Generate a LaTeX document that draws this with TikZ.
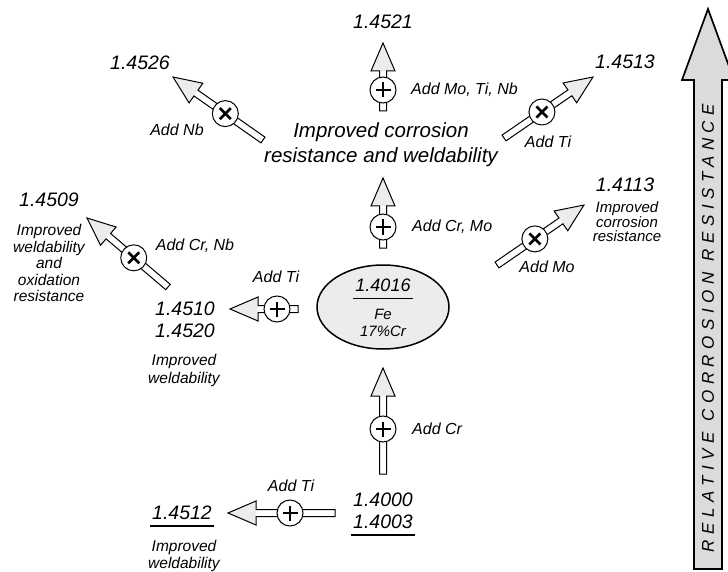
\documentclass[tikz,border=0pt]{standalone}
\usepackage{fontspec}
\setmainfont{Liberation Sans}
\usetikzlibrary{shapes.geometric, positioning}

\tikzset{
  grade/.style={font=\itshape\fontsize{19.5}{22}\selectfont, inner sep=2pt, align=center},
  addlabel/.style={font=\itshape\fontsize{16}{18}\selectfont, inner sep=1pt},
  effect/.style={font=\itshape\fontsize{15.5}{16.5}\selectfont, inner sep=1pt, align=center},
  arrowline/.style={draw, line width=1pt, line join=miter},
  underl/.style={line width=1.8pt},
  addcircle/.style={circle, draw, line width=1pt, fill=white, minimum size=26pt, inner sep=0pt},
  plussym/.style={addcircle, path picture={
      \draw[line width=2.6pt] ([xshift=-7.5pt]path picture bounding box.center) -- ([xshift=7.5pt]path picture bounding box.center);
      \draw[line width=2.6pt] ([yshift=-7.5pt]path picture bounding box.center) -- ([yshift=7.5pt]path picture bounding box.center);}},
  crosssym/.style={addcircle, path picture={
      \draw[line width=2.6pt] ([shift={(-5.5pt,-5.5pt)}]path picture bounding box.center) -- ([shift={(5.5pt,5.5pt)}]path picture bounding box.center);
      \draw[line width=2.6pt] ([shift={(-5.5pt,5.5pt)}]path picture bounding box.center) -- ([shift={(5.5pt,-5.5pt)}]path picture bounding box.center);}},
}

% hollow arrow from #1 to #2 with the addition circle #4 at distance #3 from the tail
\newcommand{\fatarrow}[5]{%
  \path (#1); \pgfgetlastxy{\tailx}{\taily}%
  \path (#2); \pgfgetlastxy{\tipx}{\tipy}%
  \pgfmathsetmacro{\arrang}{atan2((\tipy)-(\taily),(\tipx)-(\tailx))}%
  \pgfmathsetmacro{\arrlen}{veclen((\tipx)-(\tailx),(\tipy)-(\taily))}%
  \begin{scope}[shift={(#1)}, rotate=\arrang, x=1pt, y=1pt]
    \fill[white] (0,-3.5) -- (\arrlen-28,-3.5) -- (\arrlen-28,-12) -- (\arrlen,0) -- (\arrlen-28,12) -- (\arrlen-28,3.5) -- (0,3.5) -- cycle;
    \fill[gray!15] (\arrlen-28,-12) -- (\arrlen,0) -- (\arrlen-28,12) -- cycle;
    \draw[arrowline] (0,-3.5) -- (\arrlen-28,-3.5) -- (\arrlen-28,-12) -- (\arrlen,0) -- (\arrlen-28,12) -- (\arrlen-28,3.5) -- (0,3.5) -- cycle;
    \coordinate (#4) at (#3,0);
  \end{scope}
  \node[#5] (#4-sym) at (#4) {};}

\begin{document}
\begin{tikzpicture}[x=1pt, y=-1pt]
    \useasboundingbox (0,0) rectangle (728,572);

    % Relative corrosion resistance scale
    \draw[line width=1.7pt, fill=gray!28, line join=miter]
        (694,569) -- (694,80) -- (682,80) -- (708,9) -- (734,80) -- (722,80) -- (722,569) -- cycle;
    \node[font=\itshape\fontsize{17}{20}\selectfont\addfontfeatures{LetterSpace=33}, rotate=90] (scale) at (708,328) {RELATIVE CORROSION RESISTANCE};

    % Base alloy
    \node[draw, ellipse, line width=1.5pt, fill=gray!15, minimum width=132pt, minimum height=84pt] (base) at (383,307) {};
    \node[grade, font=\itshape\fontsize{18}{20}\selectfont] (g4016) at (383,285) {1.4016};
    \draw[underl] ([yshift=-5pt]g4016.south west) -- ([yshift=-5pt]g4016.south east);
    \node[effect, font=\itshape\fontsize{15}{16.5}\selectfont] (fecr) at (383,323) {Fe\\17\%Cr};

    % Grades
    \node[grade] (g4521) at (383,22) {1.4521};
    \node[grade] (g4526) at (140,63) {1.4526};
    \node[grade] (g4513) at (625,62) {1.4513};
    \node[grade] (g4509) at (49,200) {1.4509};
    \node[grade] (g4113) at (625,185) {1.4113};
    \node[grade] (g4510) at (185,320) {1.4510\\1.4520};
    \node[grade] (g4512) at (182,513) {1.4512};
    \draw[underl] ([yshift=-4pt]g4512.south west) -- ([yshift=-4pt]g4512.south east);
    \node[grade] (g4000) at (383,511) {1.4000\\1.4003};
    \draw[underl] ([yshift=-4pt]g4000.south west) -- ([yshift=-4pt]g4000.south east);

    % Properties
    \node[grade, font=\itshape\fontsize{20.5}{25}\selectfont] (corrweld) at (381,145) {Improved corrosion\\resistance and weldability};
    \node[effect] (e4509) at (49,263) {Improved\\weldability\\and\\oxidation\\resistance};
    \node[effect, font=\itshape\fontsize{15}{14.5}\selectfont] (e4113) at (627,222) {Improved\\corrosion\\resistance};
    \node[effect, font=\itshape\fontsize{15.5}{18}\selectfont] (e4510) at (184,370) {Improved\\weldability};
    \node[effect] (e4512) at (184,556) {Improved\\weldability};

    % Additions
    \coordinate (motinb-tail) at (383,111);  \coordinate (motinb-tip) at (383,43);
    \coordinate (crmo-tail) at (383,248);    \coordinate (crmo-tip) at (383,178);
    \coordinate (cr-tail) at (383,474);      \coordinate (cr-tip) at (383,368);
    \coordinate (nb-tail) at (263,140);      \coordinate (nb-tip) at (173,77);
    \coordinate (tiup-tail) at (504,138);    \coordinate (tiup-tip) at (593,77);
    \coordinate (mo-tail) at (497,265);      \coordinate (mo-tip) at (584,205);
    \coordinate (crnb-tail) at (168,287);    \coordinate (crnb-tip) at (87,218);
    \coordinate (tileft-tail) at (298,309);  \coordinate (tileft-tip) at (230,309);
    \coordinate (tilow-tail) at (335,513);   \coordinate (tilow-tip) at (228,513);

    \fatarrow{motinb-tail}{motinb-tip}{21}{motinb}{plussym}
    \fatarrow{crmo-tail}{crmo-tip}{21}{crmo}{plussym}
    \fatarrow{cr-tail}{cr-tip}{45}{cr}{plussym}
    \fatarrow{nb-tail}{nb-tip}{46}{nb}{crosssym}
    \fatarrow{tiup-tail}{tiup-tip}{46}{tiup}{crosssym}
    \fatarrow{mo-tail}{mo-tip}{46}{mo}{crosssym}
    \fatarrow{crnb-tail}{crnb-tip}{45}{crnb}{crosssym}
    \fatarrow{tileft-tail}{tileft-tip}{21}{tileft}{plussym}
    \fatarrow{tilow-tail}{tilow-tip}{45}{tilow}{plussym}

    % Addition labels
    \node[addlabel, anchor=west] (l-motinb) at (410,90) {Add Mo, Ti, Nb};
    \node[addlabel, anchor=west] (l-crmo) at (411,227) {Add Cr, Mo};
    \node[addlabel, anchor=west] (l-cr) at (411,429) {Add Cr};
    \node[addlabel] (l-nb) at (177,130) {Add Nb};
    \node[addlabel] (l-tiup) at (548,142) {Add Ti};
    \node[addlabel] (l-mo) at (547,267) {Add Mo};
    \node[addlabel] (l-crnb) at (195,246) {Add Cr, Nb};
    \node[addlabel] (l-tileft) at (276,277) {Add Ti};
    \node[addlabel] (l-tilow) at (291,486) {Add Ti};
\end{tikzpicture}
\end{document}
